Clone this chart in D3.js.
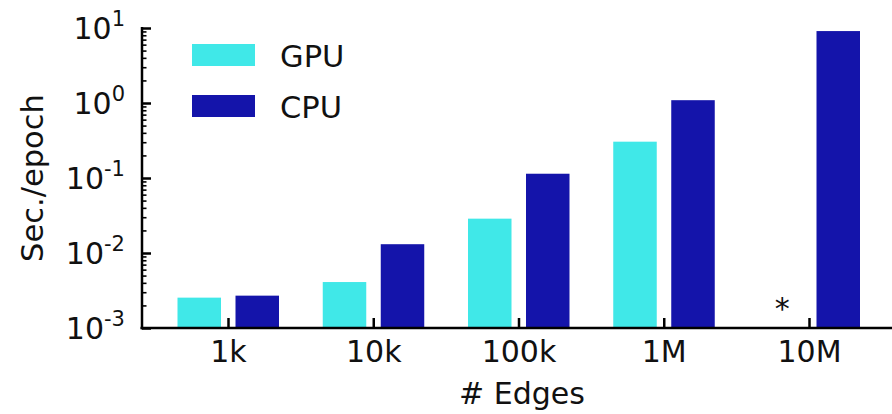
<!DOCTYPE html>
<html>
<head>
<meta charset="utf-8">
<script src="https://cdn.jsdelivr.net/npm/d3@7"></script>
<style>
  html, body { margin: 0; padding: 0; background: #fff; }
  svg { display: block; }
  text { font-family: "DejaVu Sans", sans-serif; fill: #111; }
</style>
</head>
<body>
<svg id="chart" width="892" height="414"></svg>
<script>
// ---- data ----
const categories = ["1k", "10k", "100k", "1M", "10M"];
const seriesNames = ["GPU", "CPU"];
const gpuValues = [0.00254, 0.0041, 0.0287, 0.305, null]; // null: not available (*)
const cpuValues = [0.0027, 0.0131, 0.114, 1.09, 9.1];
const yTickExponents = [-3, -2, -1, 0, 1];
const colors = ["#40E8E8", "#1414AA"];
const xLabel = "# Edges";
const yLabel = "Sec./epoch";

// ---- layout ----
const svg = d3.select("#chart");
const axisX0 = 142, axisY0 = 328, axisTop = 28, axisRight = 892;
const fontSize = 30;

const y = d3.scaleLog().domain([1e-3, 1e1]).range([axisY0, axisTop]);
const x = d3.scalePoint().domain(categories).range([228, 809]);
const sub = d3.scaleBand().domain(seriesNames).range([-50.5, 51]).paddingInner(0.25);

const series = [gpuValues, cpuValues];

// bars
seriesNames.forEach((name, si) => {
  const vals = series[si];
  svg.append("g").selectAll("rect")
    .data(categories.map((c, i) => ({ c, v: vals[i] })).filter(d => d.v != null))
    .join("rect")
    .attr("x", d => x(d.c) + sub(name))
    .attr("width", sub.bandwidth())
    .attr("y", d => y(d.v))
    .attr("height", d => axisY0 - y(d.v))
    .attr("fill", colors[si]);
});

// asterisk for missing GPU value
categories.forEach((c, i) => {
  if (gpuValues[i] == null) {
    svg.append("text")
      .attr("x", x(c) + sub("GPU") + sub.bandwidth() / 2 + 2)
      .attr("y", axisY0 - 9)
      .attr("text-anchor", "middle")
      .attr("font-size", fontSize)
      .text("*");
  }
});

// x axis
const xAxis = svg.append("g")
  .attr("transform", `translate(0,${axisY0})`)
  .call(d3.axisBottom(x).tickSizeInner(-10).tickSizeOuter(0).tickPadding(13));
xAxis.select(".domain").remove();
xAxis.selectAll(".tick line").attr("stroke", "#000").attr("stroke-width", 2.5);
xAxis.selectAll(".tick text")
  .attr("font-size", fontSize)
  .attr("font-family", "DejaVu Sans, sans-serif")
  .attr("fill", "#111");
svg.append("line")
  .attr("x1", axisX0 - 1.5).attr("x2", axisRight)
  .attr("y1", axisY0).attr("y2", axisY0)
  .attr("stroke", "#000").attr("stroke-width", 2.5);

// y axis minor ticks
const minorVals = [];
yTickExponents.slice(0, -1).forEach(e => {
  for (let m = 2; m <= 9; m++) minorVals.push(m * Math.pow(10, e));
});
const yMinor = svg.append("g")
  .attr("transform", `translate(${axisX0},0)`)
  .call(d3.axisLeft(y).tickValues(minorVals).tickFormat("").tickSizeInner(-4.5).tickSizeOuter(0));
yMinor.select(".domain").remove();
yMinor.selectAll(".tick line").attr("stroke", "#000").attr("stroke-width", 1.6);

// y axis major ticks
const majorVals = yTickExponents.map(e => Math.pow(10, e));
const yMajor = svg.append("g")
  .attr("transform", `translate(${axisX0},0)`)
  .call(d3.axisLeft(y).tickValues(majorVals).tickFormat("").tickSizeInner(-9).tickSizeOuter(0));
yMajor.select(".domain").remove();
yMajor.selectAll(".tick line").attr("stroke", "#000").attr("stroke-width", 2.5);
yMajor.selectAll(".tick").each(function(d, i) {
  const t = d3.select(this).append("text")
    .attr("x", -17)
    .attr("y", 10.5)
    .attr("text-anchor", "end")
    .attr("fill", "#111")
    .attr("font-size", fontSize);
  t.append("tspan").text("10");
  t.append("tspan").attr("dy", -13).attr("font-size", 21).text(String(yTickExponents[i]));
});
svg.append("line")
  .attr("x1", axisX0).attr("x2", axisX0)
  .attr("y1", axisTop - 1).attr("y2", axisY0 + 1.25)
  .attr("stroke", "#000").attr("stroke-width", 2.5);

// axis labels
svg.append("text")
  .attr("x", 522).attr("y", 404)
  .attr("text-anchor", "middle")
  .attr("font-size", fontSize)
  .text(xLabel);
svg.append("text")
  .attr("transform", `translate(43,178) rotate(-90)`)
  .attr("text-anchor", "middle")
  .attr("font-size", 30.5)
  .text(yLabel);

// legend
const legend = svg.append("g");
seriesNames.forEach((name, si) => {
  const ly = 44 + si * 51;
  legend.append("rect")
    .attr("x", 192).attr("y", ly)
    .attr("width", 63).attr("height", 22)
    .attr("fill", colors[si]);
  legend.append("text")
    .attr("x", 280).attr("y", ly + 22.5)
    .attr("font-size", 30.5)
    .text(name);
});
</script>
</body>
</html>
